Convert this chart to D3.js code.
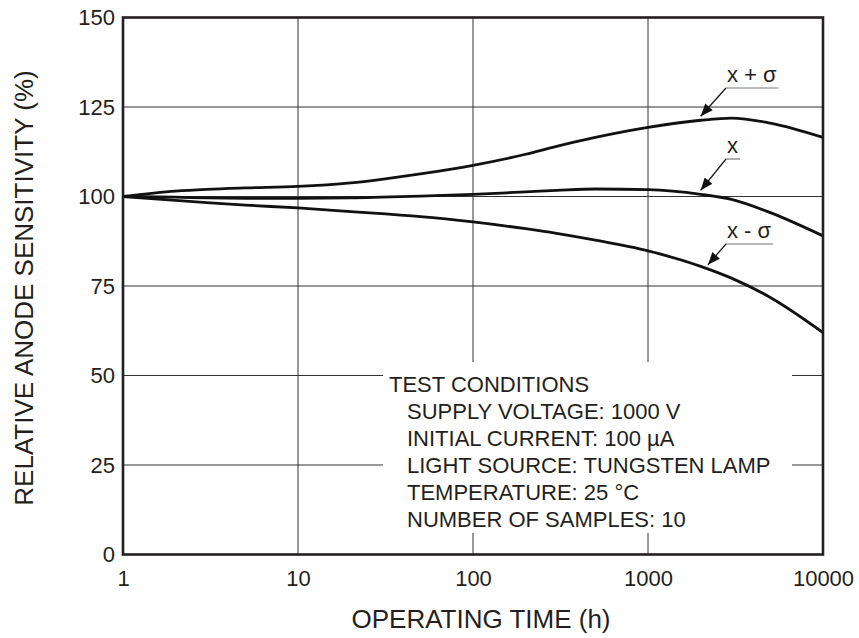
<!DOCTYPE html>
<html>
<head>
<meta charset="utf-8">
<script src="https://cdn.jsdelivr.net/npm/d3@7"></script>
<style>
  body { margin: 0; background: #fff; }
  text { font-family: "Liberation Sans", Arial, Helvetica, sans-serif; fill: #231f20; }
</style>
</head>
<body>
<svg id="chart" width="859" height="638"></svg>
<script>
// operating time (h) and relative anode sensitivity (%)
const hours = [1, 2, 3, 5, 10, 20, 30, 50, 100, 200, 300, 500, 1000, 2000, 3000, 5000, 10000];
const upper = [100, 101.5, 102, 102.4, 102.8, 103.8, 104.8, 106.3, 108.7, 111.8, 114, 116.5, 119.3, 121.3, 121.9, 120.5, 116.5];
const mean  = [100, 99.8, 99.6, 99.5, 99.5, 99.6, 99.8, 100.1, 100.6, 101.3, 101.7, 102.1, 101.9, 100.6, 99.2, 95.5, 89.0];
const lower = [100, 98.9, 98.3, 97.6, 96.8, 95.8, 95.2, 94.4, 92.9, 91.0, 89.7, 87.8, 84.8, 80.5, 77.2, 71.8, 62];

const xTicks = [1, 10, 100, 1000, 10000];
const yTicks = [0, 25, 50, 75, 100, 125, 150];

const conditions = [
  "TEST CONDITIONS",
  "SUPPLY VOLTAGE: 1000 V",
  "INITIAL CURRENT: 100 \u00b5A",
  "LIGHT SOURCE: TUNGSTEN LAMP",
  "TEMPERATURE: 25 \u00b0C",
  "NUMBER OF SAMPLES: 10"
];

// curve labels: name, point on curve the arrow hits (hours, %), label anchor
const labels = [
  { text: "x + \u03c3", at: [2000, 121.3], lx: 727, ly: 82 },
  { text: "x",          at: [2000, 100.6], lx: 727, ly: 153 },
  { text: "x - \u03c3", at: [2200, 79.8], lx: 727, ly: 238 }
];

const svg = d3.select("#chart");
const pLeft = 123, pRight = 823, pTop = 17.5, pBottom = 554.5;

const x = d3.scaleLog().domain([1, 10000]).range([pLeft, pRight]);
const y = d3.scaleLinear().domain([0, 150]).range([pBottom, pTop]);

// grid
const grid = svg.append("g");
grid.selectAll(".vg").data(xTicks.slice(1, -1)).enter().append("line")
  .attr("x1", d => x(d)).attr("x2", d => x(d))
  .attr("y1", pTop).attr("y2", pBottom)
  .attr("stroke", "#333").attr("stroke-width", 1);
grid.selectAll(".hg").data(yTicks.slice(1, -1)).enter().append("line")
  .attr("x1", pLeft).attr("x2", pRight)
  .attr("y1", d => y(d)).attr("y2", d => y(d))
  .attr("stroke", "#333").attr("stroke-width", 1);

// white box behind the test conditions
svg.append("rect")
  .attr("x", 383).attr("y", 362).attr("width", 409).attr("height", 171)
  .attr("fill", "#fff");

const tc = svg.append("text").attr("font-size", 22);
conditions.forEach((c, i) => {
  tc.append("tspan")
    .attr("x", i == 0 ? 389 : 407)
    .attr("y", 392 + i * 27)
    .text(c);
});

// curves
const line = d3.line()
  .x(d => x(d[0]))
  .y(d => y(d[1]))
  .curve(d3.curveMonotoneX);

[upper, mean, lower].forEach(s => {
  svg.append("path")
    .datum(hours.map((h, i) => [h, s[i]]))
    .attr("d", line)
    .attr("fill", "none")
    .attr("stroke", "#111")
    .attr("stroke-width", 2.8);
});

// frame
svg.append("rect")
  .attr("x", pLeft).attr("y", pTop)
  .attr("width", pRight - pLeft).attr("height", pBottom - pTop)
  .attr("fill", "none").attr("stroke", "#231f20").attr("stroke-width", 2.6);

// axes
const xAxis = svg.append("g")
  .attr("transform", "translate(0," + pBottom + ")")
  .call(d3.axisBottom(x).tickValues(xTicks).tickFormat(d3.format("d")).tickSize(0).tickPadding(16));
xAxis.select(".domain").remove();
xAxis.selectAll("text").attr("font-size", 22).attr("fill", "#231f20");
xAxis.attr("font-family", null).attr("font-size", null);

const yAxis = svg.append("g")
  .attr("transform", "translate(" + pLeft + ",0)")
  .call(d3.axisLeft(y).tickValues(yTicks).tickSize(0).tickPadding(8));
yAxis.select(".domain").remove();
yAxis.selectAll("text").attr("font-size", 22).attr("fill", "#231f20");
yAxis.attr("font-family", null).attr("font-size", null);

svg.append("text")
  .attr("x", 481).attr("y", 628)
  .attr("text-anchor", "middle").attr("font-size", 26)
  .text("OPERATING TIME (h)");

svg.append("text")
  .attr("transform", "translate(33,288) rotate(-90)")
  .attr("text-anchor", "middle").attr("font-size", 26)
  .text("RELATIVE ANODE SENSITIVITY (%)");

// arrow labels
svg.append("defs").append("marker")
  .attr("id", "arr").attr("viewBox", "0 0 10 8")
  .attr("refX", 10).attr("refY", 4)
  .attr("markerWidth", 13).attr("markerHeight", 10)
  .attr("markerUnits", "userSpaceOnUse")
  .attr("orient", "auto")
  .append("path").attr("d", "M0,0 L10,4 L0,8 Z").attr("fill", "#111");

labels.forEach(l => {
  const t = svg.append("text")
    .attr("x", l.lx).attr("y", l.ly)
    .attr("font-size", 22)
    .text(l.text);
  const w = t.node().getComputedTextLength();
  const uy = l.ly + 6;
  svg.append("line")
    .attr("x1", l.lx - 1).attr("x2", l.lx + w + 2)
    .attr("y1", uy).attr("y2", uy)
    .attr("stroke", "#777").attr("stroke-width", 1.2);
  const tx = x(l.at[0]), ty = y(l.at[1]);
  svg.append("line")
    .attr("x1", l.lx - 1).attr("y1", uy)
    .attr("x2", tx).attr("y2", ty - 4)
    .attr("stroke", "#111").attr("stroke-width", 1.2)
    .attr("marker-end", "url(#arr)");
});
</script>
</body>
</html>
